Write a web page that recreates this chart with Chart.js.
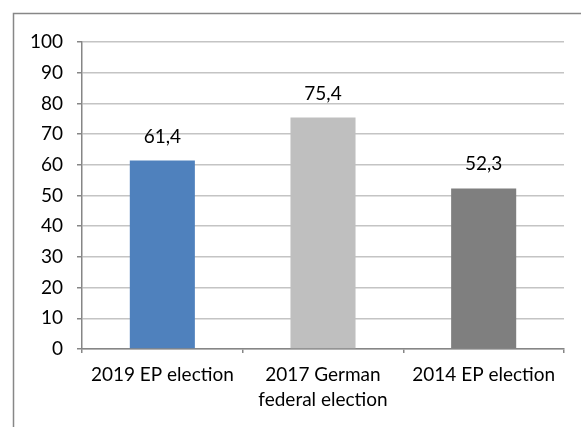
<!DOCTYPE html>
<html>
<head>
<meta charset="utf-8">
<script src="https://cdn.jsdelivr.net/npm/chart.js@4/dist/chart.umd.min.js"></script>
<style>
html,body{margin:0;padding:0;background:#fff;overflow:hidden;}
#wrap{position:relative;width:581px;height:427px;}
</style>
</head>
<body>
<div id="wrap"><canvas id="c" width="581" height="427"></canvas></div>
<script>
const categories = [["2019 EP election"], ["2017 German", "federal election"], ["2014 EP election"]];
const turnout = [61.4, 75.4, 52.3];
const barColors = ["#4F81BD", "#BFBFBF", "#7F7F7F"];
const yTicks = [0, 10, 20, 30, 40, 50, 60, 70, 80, 90, 100];

const FONT = "Lato, 'Open Sans', sans-serif";

const framePlugin = {
  id: 'frame',
  beforeDraw(chart) {
    const ctx = chart.ctx;
    ctx.save();
    ctx.strokeStyle = '#878787';
    ctx.lineWidth = 1.5;
    ctx.strokeRect(13.5, 13.5, 800, 800);
    ctx.restore();
  }
};

const labelPlugin = {
  id: 'valueLabels',
  afterDatasetsDraw(chart) {
    const ctx = chart.ctx;
    const meta = chart.getDatasetMeta(0);
    ctx.save();
    ctx.font = '19px ' + FONT;
    ctx.fillStyle = '#000';
    ctx.textAlign = 'center';
    ctx.textBaseline = 'alphabetic';
    meta.data.forEach((bar, i) => {
      const v = chart.data.datasets[0].data[i];
      ctx.fillText(v.toFixed(1).replace('.', ','), bar.x, bar.y - 18);
    });
    ctx.restore();
  }
};

new Chart(document.getElementById('c'), {
  type: 'bar',
  data: {
    labels: categories,
    datasets: [{
      data: turnout,
      backgroundColor: barColors,
      borderWidth: 0,
      barPercentage: 0.405,
      categoryPercentage: 1.0
    }]
  },
  options: {
    responsive: false,
    animation: false,
    devicePixelRatio: 1,
    layout: { padding: { top: 42, right: 17, left: 0, bottom: 0 } },
    plugins: { legend: { display: false }, tooltip: { enabled: false } },
    scales: {
      x: {
        offset: true,
        grid: { display: true, drawOnChartArea: false, drawTicks: true, tickLength: 4, tickColor: '#868686', offset: true, lineWidth: 1.5 },
        border: { display: true, color: '#868686', width: 1.5 },
        ticks: { color: '#000', font: { family: FONT, size: 19, lineHeight: 1.3 }, padding: 10, maxRotation: 0, autoSkip: false },
        afterFit(scale) { scale.height = 78; }
      },
      y: {
        min: 0, max: 100,
        afterBuildTicks(scale) { scale.ticks = yTicks.map(v => ({ value: v })); },
        grid: { color: '#C4C4C4', lineWidth: 1.5, tickLength: 5, tickColor: '#868686' },
        border: { display: true, color: '#868686', width: 1.5 },
        ticks: { color: '#000', font: { family: FONT, size: 19 }, padding: 14 },
        afterFit(scale) { scale.width = 82; }
      }
    }
  },
  plugins: [framePlugin, labelPlugin]
});
</script>
</body>
</html>
